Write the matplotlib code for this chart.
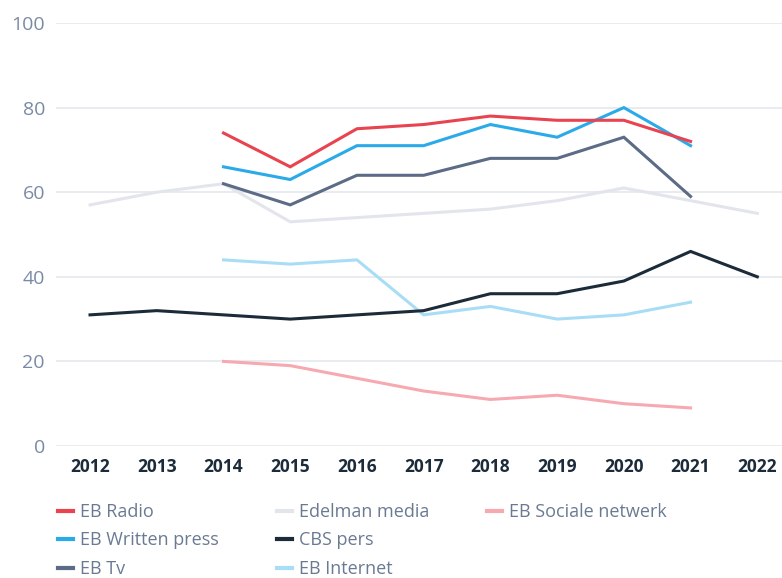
import matplotlib
matplotlib.use("Agg")
import matplotlib.pyplot as plt
from matplotlib.lines import Line2D

years_all = [2012, 2013, 2014, 2015, 2016, 2017, 2018, 2019, 2020, 2021, 2022]
years_eb = [2014, 2015, 2016, 2017, 2018, 2019, 2020, 2021]

eb_radio = [74, 66, 75, 76, 78, 77, 77, 72]
eb_written = [66, 63, 71, 71, 76, 73, 80, 71]
eb_tv = [62, 57, 64, 64, 68, 68, 73, 59]
edelman = [57, 60, 62, 53, 54, 55, 56, 58, 61, 58, 55]
cbs = [31, 32, 31, 30, 31, 32, 36, 36, 39, 46, 40]
eb_internet = [44, 43, 44, 31, 33, 30, 31, 34]
eb_social = [20, 19, 16, 13, 11, 12, 10, 9]

yticks = [0, 20, 40, 60, 80, 100]

series = [
    ("EB Radio", years_eb, eb_radio, "#E8434F"),
    ("EB Written press", years_eb, eb_written, "#2BAAE9"),
    ("EB Tv", years_eb, eb_tv, "#5C6B86"),
    ("Edelman media", years_all, edelman, "#E3E5EC"),
    ("CBS pers", years_all, cbs, "#1C2B39"),
    ("EB Internet", years_eb, eb_internet, "#A9DDF6"),
    ("EB Sociale netwerk", years_eb, eb_social, "#F7A9B1"),
]

plt.rcParams['font.family'] = ['Open Sans', 'DejaVu Sans']
fig = plt.figure(figsize=(7.82, 5.78), dpi=100)
ax = fig.add_axes([56/782, 1-446/578, 1-56/782, (446-23)/578])

draw_order = [3, 5, 6, 4, 2, 1, 0]
colors = {}
for i in draw_order:
    name, xs, ys, c = series[i]
    ax.plot(xs, ys, color=c, lw=2.2, solid_joinstyle='miter', zorder=3)
    colors[name] = c

ax.set_xlim(2011.49, 2022.37)
ax.set_ylim(0, 100)
ax.set_yticks(yticks)
ax.set_xticks(years_all)
ax.set_xticklabels([str(y) for y in years_all], fontweight='bold', fontsize=12.5, color='#1C2B39')
ax.tick_params(axis='y', labelsize=14, labelcolor='#7A8AA6', length=0, pad=8)
ax.tick_params(axis='x', length=0, pad=9)
ax.grid(axis='y', color='#E4E7EE', lw=1.2, zorder=0)
for s in ax.spines.values():
    s.set_visible(False)

columns = [
    (["EB Radio", "EB Written press", "EB Tv"], 58),
    (["Edelman media", "CBS pers", "EB Internet"], 277),
    (["EB Sociale netwerk"], 487),
]
for names, x0 in columns:
    hs = [Line2D([], [], color=colors[n], lw=3) for n in names]
    leg = fig.legend(hs, names, loc='upper left', bbox_to_anchor=(x0/782, 1-503/578),
                     frameon=False, handlelength=0.85, handletextpad=0.35,
                     labelspacing=0.58, fontsize=13, labelcolor='#6B7A93',
                     borderaxespad=0, borderpad=0)

fig.savefig("out.png", dpi=100)
